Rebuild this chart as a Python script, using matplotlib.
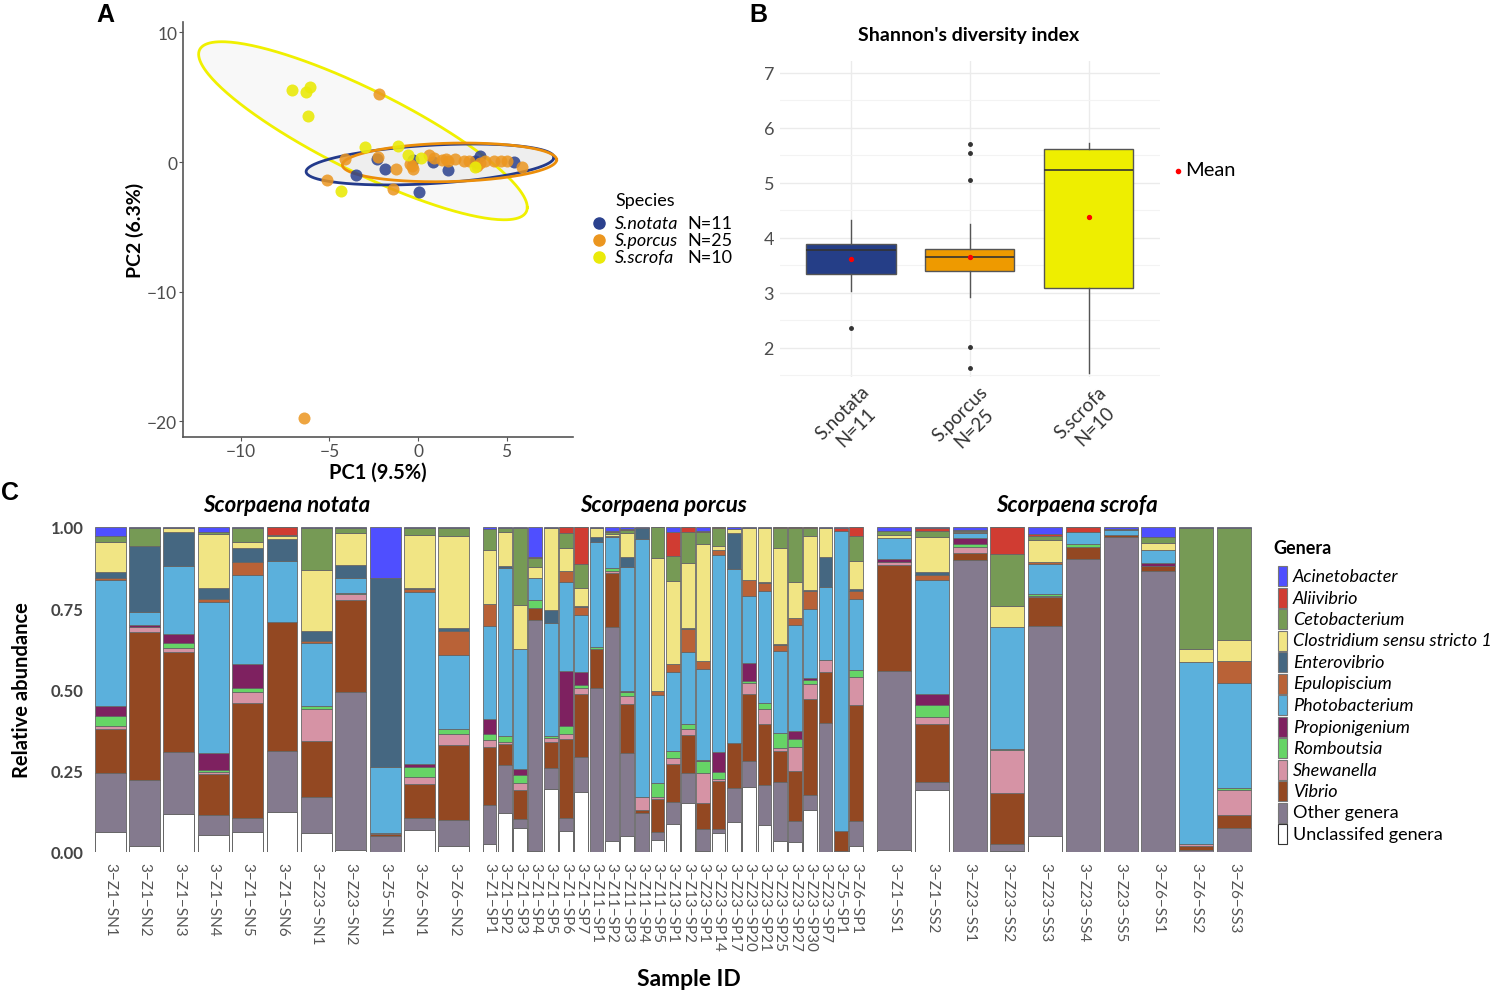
import numpy as np
import matplotlib.pyplot as plt
import matplotlib.transforms as mtrans
from matplotlib.patches import Rectangle
from matplotlib.lines import Line2D

plt.rcParams['font.family'] = ['Lato', 'DejaVu Sans']

W, H = 1494, 995

# ---------------- panel A : PCA scores ----------------
notata_pc1 = [-2.31, -1.88, -3.48, -0.27, 0.83, 1.67, 0.08, 3.24, 3.49, 5.42, 3.30]
notata_pc2 = [0.23, -0.54, -1.00, 0.18, 0.03, -0.62, -2.33, 0.10, 0.44, -0.03, 0.00]
porcus_pc1 = [-2.22, -6.42, -5.13, -4.15, -2.25, -1.40, -1.25, -0.45, -0.27, 0.64, 1.35, 1.72,
              2.10, 2.58, 3.33, 3.81, 4.28, 4.66, 5.04, 5.89, 0.90, 1.60, 2.90, 3.50, -0.35]
porcus_pc2 = [5.23, -19.72, -1.36, 0.23, 0.36, -2.08, -0.54, -0.15, -0.54, 0.56, 0.15, 0.10,
              0.26, 0.10, -0.28, 0.10, 0.10, 0.10, 0.10, -0.41, 0.30, 0.20, 0.05, -0.10, -0.30]
scrofa_pc1 = [-7.14, -6.34, -6.12, -6.19, -4.36, -2.97, -1.12, -0.59, 0.17, 3.20]
scrofa_pc2 = [5.56, 5.41, 5.82, 3.51, -2.26, 1.13, 1.23, 0.56, 0.28, -0.36]

# ellipses: centre, conjugate half-axis vectors
ellipses = {
    'scrofa': ((-3.11, 2.41), (9.28, -5.90), (0.0, 3.51)),
    'notata': ((0.68, -0.19), (7.00, 0.55), (0.0, 1.48)),
    'porcus': ((1.78, -0.03), (6.05, 0.20), (0.0, 1.48)),
}

# ---------------- panel B : Shannon index ----------------
species = ['S.notata', 'S.porcus', 'S.scrofa']
n_samples = [11, 25, 10]
box_q1 = [3.34, 3.39, 3.09]
box_med = [3.77, 3.66, 5.23]
box_q3 = [3.88, 3.79, 5.62]
box_lo = [3.03, 2.92, 1.54]
box_hi = [4.32, 4.25, 5.72]
box_mean = [3.61, 3.66, 4.37]
box_out = [[2.36], [5.70, 5.54, 5.06, 2.01, 1.64], []]

# ---------------- panel C : relative abundance ----------------
notata_ids = ['3−Z1−SN1', '3−Z1−SN2', '3−Z1−SN3', '3−Z1−SN4', '3−Z1−SN5', '3−Z1−SN6',
              '3−Z23−SN1', '3−Z23−SN2', '3−Z5−SN1', '3−Z6−SN1', '3−Z6−SN2']
porcus_ids = ['3−Z1−SP1', '3−Z1−SP2', '3−Z1−SP3', '3−Z1−SP4', '3−Z1−SP5', '3−Z1−SP6', '3−Z1−SP7',
              '3−Z11−SP1', '3−Z11−SP2', '3−Z11−SP3', '3−Z11−SP4', '3−Z11−SP5',
              '3−Z13−SP1', '3−Z13−SP2', '3−Z23−SP1', '3−Z23−SP14', '3−Z23−SP17', '3−Z23−SP20',
              '3−Z23−SP21', '3−Z23−SP25', '3−Z23−SP27', '3−Z23−SP30', '3−Z23−SP7',
              '3−Z5−SP1', '3−Z6−SP1']
scrofa_ids = ['3−Z1−SS1', '3−Z1−SS2', '3−Z23−SS1', '3−Z23−SS2', '3−Z23−SS3', '3−Z23−SS4',
              '3−Z23−SS5', '3−Z6−SS1', '3−Z6−SS2', '3−Z6−SS3']

# one list per genus: 11 notata, 25 porcus, 10 scrofa samples
unclassified = [.061, .018, .117, .051, .061, .123, .059, .005, 0, .069, .020,
                .025, .119, .074, .004, .194, .066, .186, 0, .033, .048, 0, .037, .086, .150, .004,
                .057, .091, .201, .083, .035, .030, .130, 0, 0, .019,
                .005, .192, 0, .002, .049, 0, 0, 0, 0, 0]
other = [.183, .204, .190, .062, .045, .189, .110, .487, .048, .036, .077,
         .121, .150, .028, .711, .063, .039, .107, .505, .658, .256, .119, .026, .067, .093, .067,
         .014, .105, .078, .124, .182, .066, .048, .397, .004, .077,
         .551, .023, .899, .022, .645, .902, .970, .866, .005, .074]
vibrio = [.133, .456, .308, .128, .353, .397, .172, .282, .008, .104, .233,
          .176, .063, .089, .035, .082, .243, .193, .120, .166, .153, .010, .100, .118, .118, .080,
          .148, .139, .207, .189, .095, .152, .295, .158, .060, .357,
          .327, .179, .021, .158, .090, .038, .006, .013, .015, .041]
shewanella = [.010, .015, .012, .005, .033, 0, .098, .019, .004, .022, .033,
              .023, .007, .023, 0, .011, .015, .019, 0, .009, .024, .041, .007, .018, .020, .092,
              .006, 0, .033, .046, .010, .074, .047, .036, 0, .086,
              .010, .021, .017, .131, .005, 0, 0, 0, .006, .077]
romboutsia = [.031, 0, .017, .005, .013, 0, .010, .004, 0, .030, .016,
              .018, .019, .023, .026, .006, .024, .009, .007, .007, .012, 0, .041, .023, .014, .038,
              .020, 0, .006, .019, .046, .025, .015, 0, 0, .022,
              0, .038, .011, .005, .004, .008, 0, 0, 0, .005]
propionigenium = [.030, .006, .026, .053, .075, 0, 0, 0, 0, .011, 0,
                  .046, 0, .018, 0, 0, .170, .041, 0, 0, .002, 0, 0, 0, 0, .003,
                  .062, 0, .056, 0, 0, .025, .004, 0, 0, 0,
                  .009, .034, .018, 0, 0, 0, 0, .010, 0, 0]
photobacterium = [.390, .039, .209, .464, .272, .186, .194, .045, .203, .529, .226,
                  .285, .515, .370, .066, .348, .273, .174, .323, .095, .383, .793, .273, .241, .221, .279,
                  .607, .536, .206, .346, .254, .326, .216, .223, .925, .217,
                  .064, .351, .016, .374, .093, .036, .014, .040, .558, .323]
epulopiscium = [.004, 0, 0, .011, .039, 0, .005, .002, 0, .010, .076,
                .069, 0, 0, 0, 0, .036, .024, 0, .003, 0, 0, .010, .025, .072, .024,
                .015, 0, .051, .023, .016, .020, .055, 0, 0, .026,
                0, .014, .002, 0, .007, 0, 0, 0, 0, .069]
enterovibrio = [.019, .205, .107, .033, .044, .068, .033, .039, .579, .002, .008,
                0, .008, .002, 0, .041, 0, .003, .013, .002, .033, .033, 0, 0, .003, 0,
                0, .110, 0, .003, .004, 0, .004, .095, 0, .005,
                0, .009, 0, 0, 0, 0, .003, 0, 0, 0]
clostridium = [.094, 0, .010, .166, .018, .010, .187, .099, 0, .164, .284,
               .167, .105, .135, .034, .253, .069, .055, .028, .005, .073, 0, .410, .255, .201, .362,
               .012, .013, .158, .166, .297, .111, .167, .087, 0, .087,
               .010, .107, .004, .064, .067, 0, 0, .021, .041, .064]
cetobacterium = [.018, .055, .002, .006, .045, .003, .130, .014, 0, .021, .023,
                 .064, .010, .236, .029, 0, .047, .075, 0, .007, .008, 0, .096, .079, .097, .035,
                 .055, 0, 0, 0, .061, .166, .023, 0, 0, .077,
                 .011, .021, .002, .161, .013, 0, 0, .020, .373, .345]
aliivibrio = [0, 0, 0, 0, 0, .024, 0, 0, 0, 0, 0,
              0, 0, 0, .003, 0, .018, .114, 0, .003, .004, 0, 0, .072, .014, .003,
              .004, 0, 0, 0, .004, .004, .004, 0, .007, .027,
              0, .007, 0, .083, .005, .016, 0, 0, 0, 0]
acinetobacter = [.027, .002, .002, .016, .002, 0, .002, .004, .158, .004, .004,
                 .006, .004, .004, .092, .002, 0, 0, .004, .012, .006, .004, 0, .016, 0, .013,
                 0, .006, .004, .004, 0, 0, 0, .004, .004, 0,
                 .013, .004, .010, 0, .022, 0, .007, .030, .002, .002]

genera = ['Acinetobacter', 'Aliivibrio', 'Cetobacterium', 'Clostridium sensu stricto 1',
          'Enterovibrio', 'Epulopiscium', 'Photobacterium', 'Propionigenium', 'Romboutsia',
          'Shewanella', 'Vibrio', 'Other genera', 'Unclassifed genera']
genus_vals = [acinetobacter, aliivibrio, cetobacterium, clostridium, enterovibrio, epulopiscium,
              photobacterium, propionigenium, romboutsia, shewanella, vibrio, other, unclassified]
genus_cols = ['#4F4FFF', '#D03C32', '#769A55', '#F1E584', '#456781', '#B96237', '#5BB0DC',
              '#7E2160', '#66D466', '#D693A5', '#934822', '#847A8E', '#FFFFFF']


def px(x0, y0, x1, y1):
    return [x0 / W, 1 - y1 / H, (x1 - x0) / W, (y1 - y0) / H]


fig = plt.figure(figsize=(W / 100, H / 100), dpi=100)

# ---------- A ----------
axA = fig.add_axes(px(182.7, 22.7, 573.3, 438.3))
t = np.linspace(0, 2 * np.pi, 300)
ell_col = {'scrofa': '#F0F000', 'notata': '#233A8B', 'porcus': '#EC8E0A'}
fills = {'scrofa': '#F7F7F7', 'notata': '#EFEFEF', 'porcus': '#EEEEEE'}
for key in ['scrofa', 'notata', 'porcus']:
    (cx, cy), (ux, uy), (vx, vy) = ellipses[key]
    ex = cx + ux * np.cos(t) + vx * np.sin(t)
    ey = cy + uy * np.cos(t) + vy * np.sin(t)
    axA.fill(ex, ey, color=fills[key], alpha=0.85, zorder=1, lw=0)
for key in ['scrofa', 'notata', 'porcus']:
    (cx, cy), (ux, uy), (vx, vy) = ellipses[key]
    ex = cx + ux * np.cos(t) + vx * np.sin(t)
    ey = cy + uy * np.cos(t) + vy * np.sin(t)
    axA.plot(ex, ey, color=ell_col[key], lw=2, zorder=2)
axA.scatter(notata_pc1, notata_pc2, s=75, color='#2B418E', alpha=0.85, lw=0, zorder=3)
axA.scatter(porcus_pc1, porcus_pc2, s=75, color='#EB9620', alpha=0.85, lw=0, zorder=3)
axA.scatter(scrofa_pc1, scrofa_pc2, s=75, color='#EAEA0A', alpha=0.9, lw=0, zorder=3)
axA.set_xlim(-13.29, 8.77)
axA.set_ylim(-21.23, 10.82)
axA.set_xticks([-10, -5, 0, 5])
axA.set_yticks([-20, -10, 0, 10])
axA.set_xticklabels(['−10', '−5', '0', '5'])
axA.set_yticklabels(['−20', '−10', '0', '10'])
for s in ['top', 'right']:
    axA.spines[s].set_visible(False)
for s in ['left', 'bottom']:
    axA.spines[s].set_color('#555555')
    axA.spines[s].set_linewidth(1.2)
axA.tick_params(length=3, color='#555555', labelcolor='#4D4D4D', labelsize=12.5, pad=1)
axA.set_xlabel('PC1 (9.5%)', fontsize=14.5, fontweight='bold', labelpad=2)
axA.set_ylabel('PC2 (6.3%)', fontsize=14, fontweight='bold', labelpad=2)

# ---------- B ----------
axB = fig.add_axes(px(779.6, 61.7, 1160, 378))
stats = []
for i in range(3):
    stats.append(dict(q1=box_q1[i], med=box_med[i], q3=box_q3[i], whislo=box_lo[i],
                      whishi=box_hi[i], fliers=box_out[i], mean=box_mean[i]))
bp = axB.bxp(stats, positions=[1, 2, 3], widths=0.75, patch_artist=True, showmeans=True,
             showcaps=False,
             flierprops=dict(marker='o', markersize=2.5, markerfacecolor='#333333',
                             markeredgecolor='#333333'),
             meanprops=dict(marker='o', markersize=2.8, markerfacecolor='red',
                            markeredgecolor='red'),
             medianprops=dict(color='#333333', lw=1.2),
             whiskerprops=dict(color='#555555', lw=1.0))
box_cols = ['#253E87', '#EE9A00', '#EEEE00']
for patch, c in zip(bp['boxes'], box_cols):
    patch.set_facecolor(c)
    patch.set_edgecolor('#555555')
    patch.set_linewidth(1.0)
for b in bp['boxes'] + bp['medians'] + bp['whiskers']:
    b.set_zorder(3)
for b in bp['fliers'] + bp['means']:
    b.set_zorder(4)
axB.set_xlim(0.4, 3.6)
axB.set_ylim(1.47, 7.22)
axB.set_yticks([2, 3, 4, 5, 6, 7])
axB.set_yticks([1.5, 2.5, 3.5, 4.5, 5.5, 6.5], minor=True)
axB.grid(which='major', color='#EBEBEB', lw=1.0)
axB.grid(which='minor', axis='y', color='#F3F3F3', lw=0.8)
axB.set_axisbelow(True)
for s in axB.spines.values():
    s.set_visible(False)
axB.tick_params(which='both', length=0, labelsize=13, labelcolor='#4D4D4D', pad=4)
axB.set_xticks([1, 2, 3])
axB.set_xticklabels([f'{sp}\nN={n}' for sp, n in zip(species, n_samples)], rotation=45,
                    ha='right', va='top', rotation_mode='anchor', multialignment='center',
                    fontsize=13.5, color='#333333')
shift = mtrans.ScaledTranslation(9 / 100, 0, fig.dpi_scale_trans)
for lab in axB.get_xticklabels():
    lab.set_transform(lab.get_transform() + shift)
fig.text(969 / W, 1 - 36 / H, "Shannon's diversity index", fontsize=14, fontweight='bold',
         ha='center', va='center')

# ---------- C ----------
vals = np.array(genus_vals, dtype=float)
vals = vals / vals.sum(axis=0)
stack_order = list(range(len(genera)))[::-1]  # unclassified at bottom
groups = [('Scorpaena notata', notata_ids, 89.5, 474.5, 287),
          ('Scorpaena porcus', porcus_ids, 480.4, 865.2, 663),
          ('Scorpaena scrofa', scrofa_ids, 871.6, 1256.6, 1077)]
start = 0
for gi, (title, ids, x0, x1, tx) in enumerate(groups):
    ax = fig.add_axes(px(x0, 528, x1, 853))
    n = len(ids)
    xs = np.arange(1, n + 1)
    bottom = np.zeros(n)
    for g in stack_order:
        v = vals[g, start:start + n]
        ax.bar(xs, v, 0.9, bottom=bottom, color=genus_cols[g],
               edgecolor='#4A4A4A' if g == 12 else '#666666', linewidth=0.6)
        bottom += v
    start += n
    ax.set_xlim(0.4, n + 0.6)
    ax.set_ylim(0, 1)
    for s in ax.spines.values():
        s.set_visible(False)
    ax.set_xticks(xs)
    ax.set_xticklabels(ids, rotation=-90, ha='center', va='top', fontsize=11,
                       color='#555555')
    ax.tick_params(length=0, pad=7)
    if gi == 0:
        ax.set_yticks([0, 0.25, 0.5, 0.75, 1.0])
        ax.set_yticklabels(['0.00', '0.25', '0.50', '0.75', '1.00'], fontweight='bold',
                           fontsize=12, color='#444444')
        ax.tick_params(axis='y', pad=4)
    else:
        ax.set_yticks([])
    fig.text(tx / W, 1 - 505 / H, title, fontsize=16, fontweight='bold', style='italic',
             ha='center', va='center')

# ---------- texts and legends ----------
fig.text(105 / W, 1 - 15 / H, 'A', fontsize=18, fontweight='bold', family='Liberation Sans',
         ha='center', va='center')
fig.text(758 / W, 1 - 15 / H, 'B', fontsize=18, fontweight='bold', family='Liberation Sans',
         ha='center', va='center')
fig.text(10 / W, 1 - 493 / H, 'C', fontsize=18, fontweight='bold', family='Liberation Sans',
         ha='center', va='center')
fig.text(22 / W, 1 - 690 / H, 'Relative abundance', rotation=90, fontsize=14.5,
         fontweight='bold', ha='center', va='center')
fig.text(689 / W, 1 - 980 / H, 'Sample ID', fontsize=16.5, fontweight='bold',
         ha='center', va='center')

# species legend (panel A)
fig.text(615 / W, 1 - 201 / H, 'Species', fontsize=13, ha='left', va='center')
leg_cols = ['#2B418E', '#EB9620', '#EAEA0A']
for i, (sp, n) in enumerate(zip(species, n_samples)):
    yy = 1 - (224 + 17 * i) / H
    fig.add_artist(Line2D([599 / W], [yy], marker='o', markersize=8, color=leg_cols[i],
                          lw=0, transform=fig.transFigure))
    fig.text(615 / W, yy, sp, fontsize=13, style='italic', ha='left', va='center')
    fig.text(687 / W, yy, f'N={n}', fontsize=13, ha='left', va='center')

# mean legend (panel B)
fig.add_artist(Line2D([1178 / W], [1 - 172 / H], marker='o', markersize=3, color='red',
                      lw=0, transform=fig.transFigure))
fig.text(1185 / W, 1 - 171 / H, 'Mean', fontsize=14.5, ha='left', va='center')

# genera legend (panel C)
fig.text(1273 / W, 1 - 548 / H, 'Genera', fontsize=13, fontweight='bold', ha='left',
         va='center')
for i, (name, col) in enumerate(zip(genera, genus_cols)):
    yc = 577 + 21.5 * i
    fig.patches.append(Rectangle((1278 / W, 1 - (yc + 10) / H), 9 / W, 20 / H,
                                 transform=fig.transFigure, facecolor=col,
                                 edgecolor='#333333' if i == 12 else '#777777', lw=0.8))
    st = 'normal' if i >= 11 else 'italic'
    fig.text(1293 / W, 1 - yc / H, name, fontsize=13, style=st, ha='left', va='center')

fig.savefig('out.png', dpi=100)
